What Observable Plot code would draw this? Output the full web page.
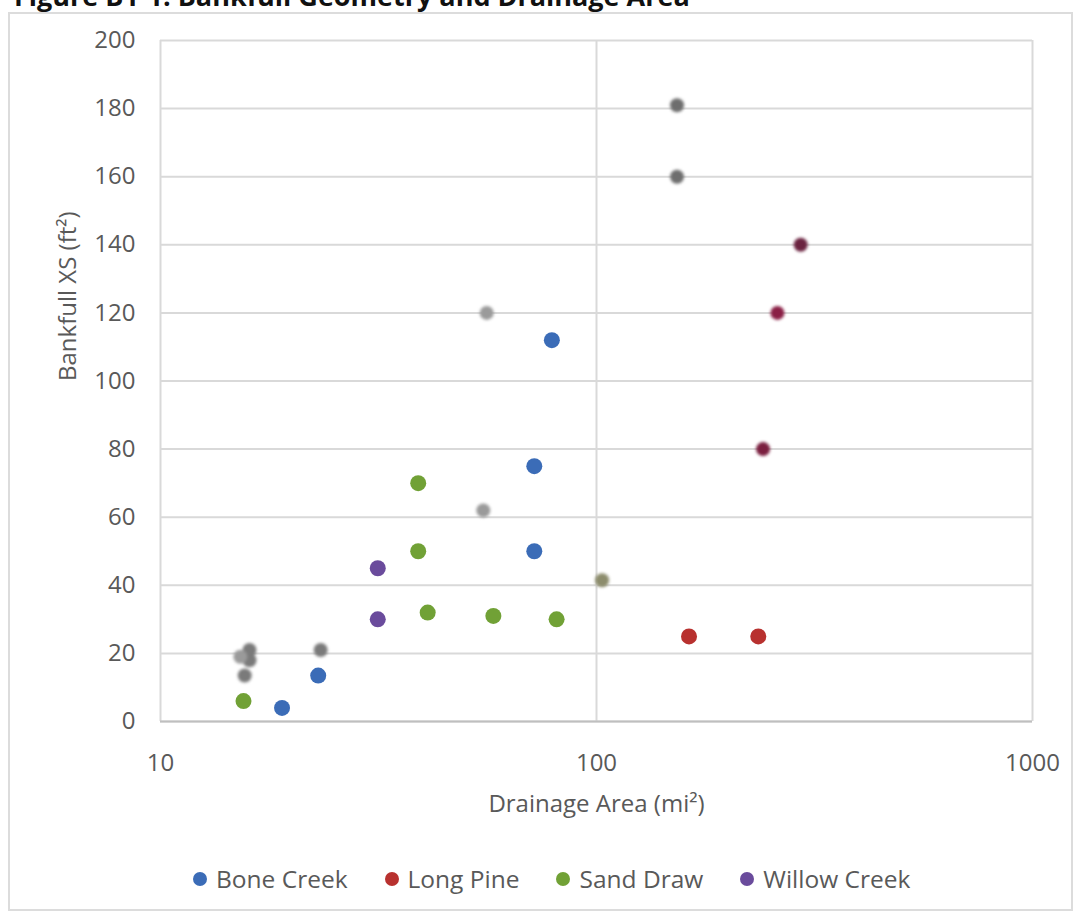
<!DOCTYPE html>
<html>
<head>
<meta charset="utf-8">
<script src="https://cdn.jsdelivr.net/npm/d3@7"></script>
<script src="https://cdn.jsdelivr.net/npm/@observablehq/plot@0.6"></script>
<style>
  body { margin: 0; background: #fff; }
  #wrap { position: relative; width: 1081px; height: 920px; overflow: hidden; font-family: "Open Sans", sans-serif; }
  #frame { position: absolute; left: 8px; top: 12px; width: 1065px; height: 899px; border: 2px solid #dcdcdc; box-sizing: border-box; }
  #title { position: absolute; left: 14px; top: -18px; font-weight: bold; font-size: 27px; color: #111; white-space: nowrap; line-height: 1; }
  #chart { position: absolute; left: 0; top: 0; }
  #legend { position: absolute; left: 193px; top: 862px; display: flex; align-items: center; gap: 37px; font-size: 24.5px; color: #595959; }
  .item { display: flex; align-items: center; }
  .sw { width: 14px; height: 14px; border-radius: 50%; margin-right: 9px; }
</style>
</head>
<body>
<div id="wrap">
  <div id="frame"></div>
  <div id="title">Figure B1-1. Bankfull Geometry and Drainage Area</div>
  <div id="chart"></div>
  <div id="legend"></div>
</div>
<script>
// ---- data ----
const seriesNames = ["Bone Creek", "Long Pine", "Sand Draw", "Willow Creek"];
const seriesColors = ["#3b6cb7", "#b8312f", "#71a136", "#6a4b9c"];

const boneCreekArea = [79, 72, 72, 23, 19];
const boneCreekXS   = [112, 75, 50, 13.5, 4];

const longPineArea = [163, 235];
const longPineXS   = [25, 25];

const sandDrawArea = [39, 39, 41, 58, 81, 15.5];
const sandDrawXS   = [70, 50, 32, 31, 30, 6];

const willowCreekArea = [31.5, 31.5];
const willowCreekXS   = [45, 30];

// faint unlabeled markers visible in the picture (not in the legend)
const ghostArea = [153, 153, 56, 55, 23.3, 16, 16, 15.25, 15.6, 103, 294, 260, 241];
const ghostXS   = [181, 160, 120, 62, 21, 21, 18, 19, 13.5, 41.5, 140, 120, 80];
const ghostTone = ["#6e6e6e", "#6e6e6e", "#9a9a9a", "#9a9a9a", "#7a7a7a", "#7a7a7a", "#7a7a7a", "#9a9a9a", "#7a7a7a", "#8c8c6c", "#6b2340", "#8a1f45", "#7a1f3f"];

const xTicks = [10, 100, 1000];
const yTicks = [0, 20, 40, 60, 80, 100, 120, 140, 160, 180, 200];
const xLabel = "Drainage Area (mi²)";
const yLabel = "Bankfull XS (ft²)";

// ---- build table ----
const pts = [];
const add = (name, xs, ys) => xs.forEach((x, i) => pts.push({series: name, area: x, xs: ys[i]}));
add("Bone Creek", boneCreekArea, boneCreekXS);
add("Long Pine", longPineArea, longPineXS);
add("Sand Draw", sandDrawArea, sandDrawXS);
add("Willow Creek", willowCreekArea, willowCreekXS);
const ghosts = ghostArea.map((x, i) => ({area: x, xs: ghostXS[i], tone: ghostTone[i]}));

const svg = Plot.plot({
  width: 1081,
  height: 830,
  marginLeft: 160,
  marginRight: 49,
  marginTop: 40,
  marginBottom: 109,
  style: {fontFamily: "Open Sans, sans-serif", fontSize: "24px", color: "#595959", background: "transparent"},
  x: {type: "log", domain: [10, 1000], ticks: xTicks, tickFormat: d => String(d), tickSize: 0, tickPadding: 32, label: null},
  y: {domain: [0, 200], ticks: yTicks, tickSize: 0, tickPadding: 25, label: null},
  color: {domain: seriesNames, range: seriesColors},
  marks: [
    Plot.ruleY(yTicks, {stroke: "#d9d9d9", strokeWidth: 2}),
    Plot.ruleX(xTicks, {stroke: "#d9d9d9", strokeWidth: 2}),
    Plot.ruleY([0], {stroke: "#bfbfbf", strokeWidth: 2}),
    Plot.dot(ghosts, {x: "area", y: "xs", fill: "tone", r: 7, stroke: "none"}),
    Plot.dot(pts, {x: "area", y: "xs", fill: "series", r: 8, stroke: "none"}),
    Plot.text([yLabel], {frameAnchor: "left", rotate: -90, dx: -92, fontSize: 24, fill: "#595959"}),
    Plot.text([xLabel], {frameAnchor: "bottom", dy: 90, fontSize: 24, fill: "#595959"})
  ]
});
document.getElementById("chart").appendChild(svg);
// soften the unlabeled markers (first dot mark)
const dotGroups = svg.querySelectorAll('g[aria-label="dot"]');
if (dotGroups.length) dotGroups[0].style.filter = "blur(1.8px)";

// ---- legend ----
const lg = d3.select("#legend");
seriesNames.forEach((n, i) => {
  const it = lg.append("div").attr("class", "item");
  it.append("div").attr("class", "sw").style("background", seriesColors[i]);
  it.append("span").text(n);
});
</script>
</body>
</html>
